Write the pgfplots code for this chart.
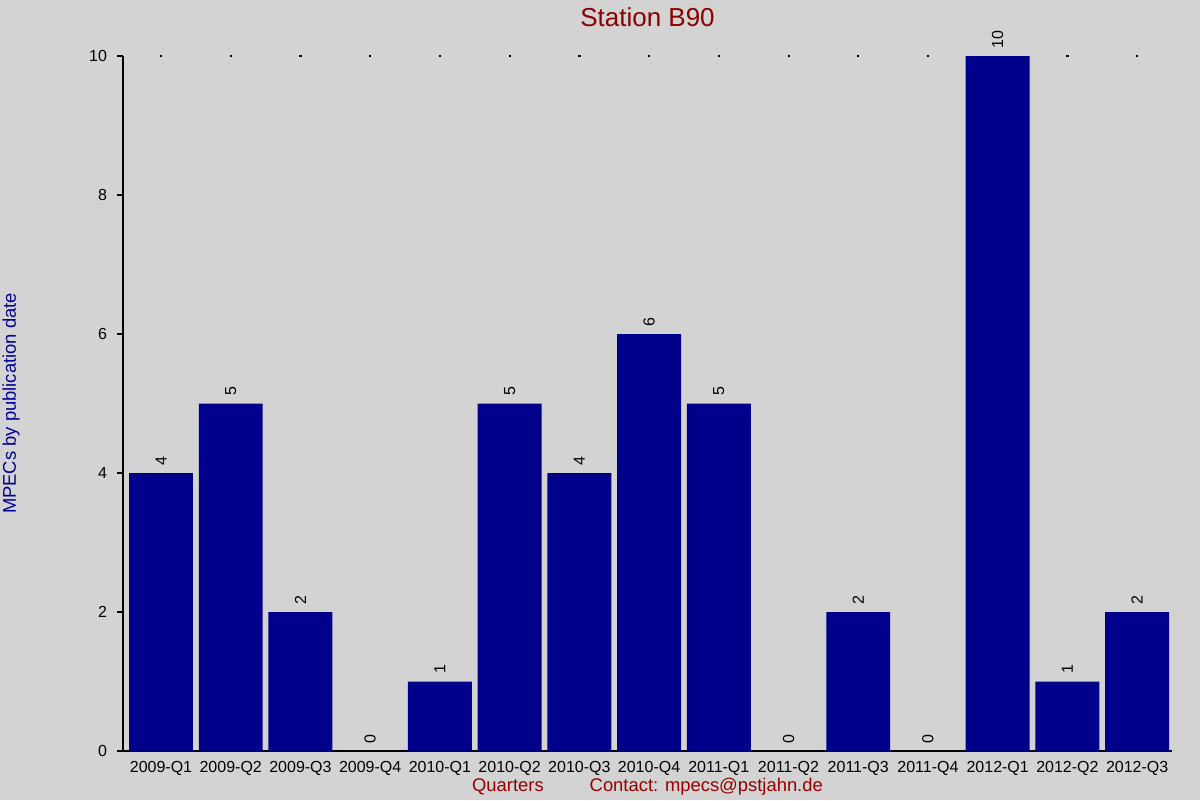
\documentclass[border=0pt]{standalone}
\usepackage{fontspec}
\setmainfont{Liberation Sans}
\usepackage{pgfplots}
\pgfplotsset{compat=1.18}
\definecolor{bgray}{RGB}{211,211,211}
\definecolor{barblue}{RGB}{0,0,139}
\definecolor{titlered}{RGB}{139,0,0}
\definecolor{labelred}{RGB}{150,0,0}
\definecolor{labelblue}{RGB}{0,0,150}

\begin{document}
\begin{tikzpicture}
\fill[bgray] (0,0) rectangle (600pt,400pt);
\useasboundingbox (0,0) rectangle (600pt,400pt);
\begin{axis}[
    at={(61.5pt,24.5pt)}, anchor=south west,
    scale only axis,
    width=524.5pt, height=347.5pt,
    xmin=-0.545, xmax=14.5,
    ymin=0, ymax=10,
    axis lines=left,
    axis line style={black, line width=0.6pt, -},
    tick align=outside,
    major tick length=3pt,
    ytick={0,2,4,6,8,10},
    ytick pos=left,
    xtick={0,...,14},
    xticklabels={2009-Q1,2009-Q2,2009-Q3,2009-Q4,2010-Q1,2010-Q2,2010-Q3,2010-Q4,2011-Q1,2011-Q2,2011-Q3,2011-Q4,2012-Q1,2012-Q2,2012-Q3},
    x tick style={draw=none},
    y tick style={black, line width=0.6pt},
    xticklabel style={font=\fontsize{8}{9}\selectfont, inner sep=0pt, yshift=-2pt},
    yticklabel style={font=\fontsize{8}{9}\selectfont, inner sep=0pt, xshift=-4.8pt},
    /pgf/number format/assume math mode=true,
    title={Station B90},
    every axis title/.style={at={(axis description cs:0.5,1)}, anchor=center,
        yshift=19.5pt, font=\fontsize{13}{15}\selectfont, text=titlered},
    xlabel={Quarters\hspace{23pt}Contact: mpecs@pstjahn.de},
    every axis x label/.style={at={(axis description cs:0.5,0)}, anchor=center,
        yshift=-18pt, font=\fontsize{9.2}{11}\selectfont, text=labelred},
    ylabel={MPECs by publication date},
    every axis y label/.style={at={(axis description cs:0,0.5)}, anchor=center,
        xshift=-56pt, rotate=90, font=\fontsize{9.2}{11}\selectfont, text=labelblue},
    clip=false,
]
\addplot[ybar, bar width=0.917, fill=barblue, draw=none,
    nodes near coords,
    every node near coord/.style={rotate=90, anchor=west, inner sep=0pt, outer xsep=4pt,
        font=\fontsize{8}{9}\selectfont, text=black}]
coordinates {
    (0,4) (1,5) (2,2) (3,0) (4,1) (5,5) (6,4) (7,6)
    (8,5) (9,0) (10,2) (11,0) (12,10) (13,1) (14,2)
};
\addplot[only marks, mark=square*, mark size=0.3pt, black]
coordinates {
    (0,10) (1,10) (2,10) (3,10) (4,10) (5,10) (6,10) (7,10)
    (8,10) (9,10) (10,10) (11,10) (13,10) (14,10)
};
\end{axis}
\end{tikzpicture}
\end{document}
